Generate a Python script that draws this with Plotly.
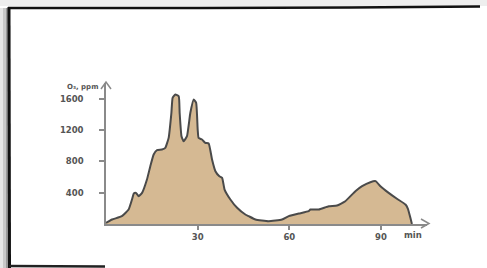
import plotly.graph_objects as go

# ---- data ----
time_min = [0, 2, 5.2, 7.4, 8.5, 9.1, 9.8, 10.7, 11.8, 13.4, 14.5, 15.6, 16.7, 18.3, 19.4,
            20.5, 21.4, 21.8, 22.7, 23.8, 24.1, 24.7, 25.4, 26.5, 27.6, 28.7, 29.5, 30.0,
            30.3, 31.4, 32.5, 33.6, 34.7, 35.8, 37.1, 38.0, 38.8, 40.7, 42.9, 45.6, 46.7,
            48.9, 53.2, 57.6, 59.8, 63.1, 66.3, 66.9, 69.6, 72.9, 75.6, 78.3, 81.6, 83.8,
            86.5, 88.2, 89.8, 92.5, 95.2, 98.0, 98.8, 99.6, 100.1]
ozone_ppm = [15, 57, 100, 185, 313, 390, 398, 355, 398, 568, 738, 888, 943, 951, 973,
             1100, 1420, 1612, 1654, 1632, 1420, 1121, 1057, 1121, 1420, 1590, 1548, 1207,
             1100, 1079, 1037, 1028, 824, 674, 610, 590, 440, 313, 207, 121, 100,
             57, 36, 57, 100, 134, 163, 185, 185, 227, 236, 291, 419, 483,
             534, 547, 483, 398, 322, 249, 194, 79, 0]
y_ticks = [400, 800, 1200, 1600]
y_tick_labels = ["400", "800", "1200", "1600"]
x_ticks = [30, 60, 90]
x_tick_labels = ["30", "60", "90"]
y_title = "O₃, ppm"
x_unit = "min"

W, H = 487, 268
L, R, T, B = 106, 60, 83, 44
PW, PH = W - L - R, H - T - B


def px(x):
    return (x - L) / PW


def py(y):
    return (H - B - y) / PH


AXC = "#8a8a8a"
TXT = "#555555"
FONT = dict(family="DejaVu Sans", size=8.5, color=TXT, weight="bold")

fig = go.Figure()
fig.add_trace(go.Scatter(
    x=time_min, y=ozone_ppm, mode="lines", fill="tozeroy",
    fillcolor="#d5b993", line=dict(color="#4a4a4a", width=2, shape="spline", smoothing=0.4),
    hoverinfo="skip"))

fig.update_layout(
    width=W, height=H, margin=dict(l=L, r=R, t=T, b=B),
    paper_bgcolor="white", plot_bgcolor="white", showlegend=False,
    xaxis=dict(range=[0, PW / 3.056], tickvals=x_ticks, ticktext=x_tick_labels,
               showgrid=False, zeroline=False, showline=True, linecolor=AXC, linewidth=1.5,
               ticks="outside", ticklen=4, tickwidth=1.5, tickcolor=AXC, tickfont=FONT),
    yaxis=dict(range=[0, PH / 0.0783], tickvals=y_ticks, ticktext=y_tick_labels,
               showgrid=False, zeroline=False, showline=True, linecolor=AXC, linewidth=1.5,
               ticks="outside", ticklen=5, tickwidth=1.5, tickcolor=AXC, tickfont=FONT,
               ticklabelstandoff=14),
)

shapes = []
# frame shadow
for x0, x1, c in [(0, 3, "#e6e6e6"), (3, 6, "#c8c8c8"), (6, 8, "#9a9a9a")]:
    shapes.append(dict(type="rect", xref="paper", yref="paper", x0=px(x0), x1=px(x1),
                       y0=py(268), y1=py(8), fillcolor=c, line=dict(width=0), layer="above"))
shapes.append(dict(type="rect", xref="paper", yref="paper", x0=px(0), x1=px(487),
                   y0=py(6), y1=py(0), fillcolor="#eeeeee", line=dict(width=0), layer="above"))
# arrows on axes
shapes.append(dict(type="path", xref="paper", yref="paper",
                   path=f"M {px(101)},{py(89)} L {px(106)},{py(82)} L {px(111)},{py(89)}",
                   line=dict(color=AXC, width=1.5)))
shapes.append(dict(type="path", xref="paper", yref="paper",
                   path=f"M {px(421)},{py(219)} L {px(429)},{py(223.5)} L {px(421)},{py(228)}",
                   line=dict(color=AXC, width=1.5)))
# frame lines
shapes.append(dict(type="path", xref="paper", yref="paper",
                   path=f"M {px(8)},{py(8)} L {px(200)},{py(8)} L {px(350)},{py(7.5)} L {px(480)},{py(6.5)}",
                   line=dict(color="#111111", width=2.5)))
shapes.append(dict(type="line", xref="paper", yref="paper", x0=px(9), x1=px(9.5),
                   y0=py(7), y1=py(268), line=dict(color="#111111", width=3)))
shapes.append(dict(type="line", xref="paper", yref="paper", x0=px(9), x1=px(105),
                   y0=py(266), y1=py(266.5), line=dict(color="#222222", width=2.5)))
fig.update_layout(shapes=shapes)

fig.add_annotation(xref="paper", yref="paper", x=px(100), y=py(87), text=y_title,
                   showarrow=False, xanchor="right", yanchor="middle",
                   font=dict(family="DejaVu Sans", size=7, color=TXT, weight="bold"))
fig.add_annotation(xref="paper", yref="paper", x=px(402), y=py(235), text=x_unit,
                   showarrow=False, xanchor="left", yanchor="middle", font=FONT)

fig.write_html("out.html", config={"displayModeBar": False},
               post_script="document.body.style.margin='0';document.body.style.overflow='hidden';")
